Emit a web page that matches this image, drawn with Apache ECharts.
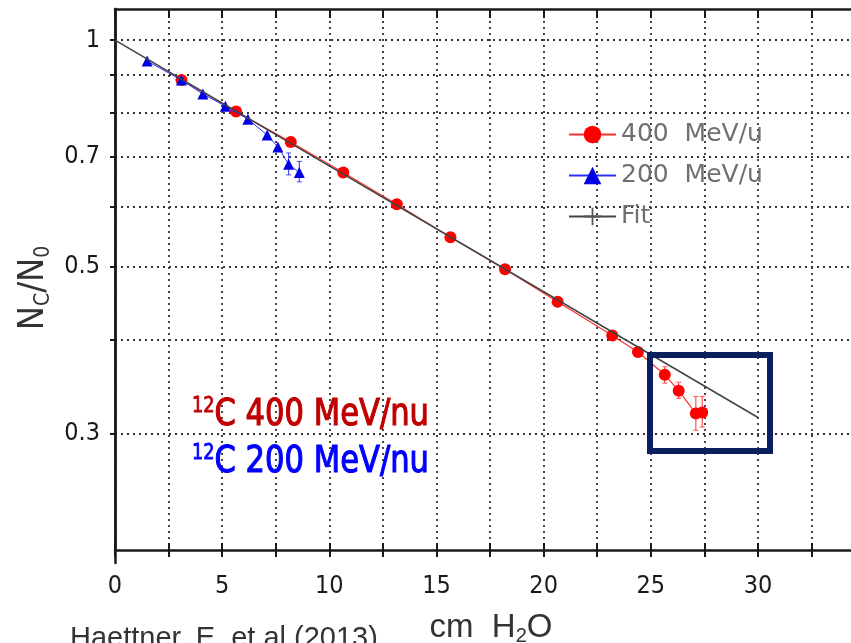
<!DOCTYPE html>
<html><head><meta charset="utf-8">
<script src="https://cdn.jsdelivr.net/npm/echarts@6/dist/echarts.min.js"></script>
<style>html,body{margin:0;padding:0;background:#fff}#c{width:851px;height:643px}</style>
</head><body><div id="c"></div>
<script>
// ---- data ----
const depth400 = [3.1, 5.65, 8.2, 10.65, 13.15, 15.65, 18.2, 20.65, 23.2, 24.4, 25.65, 26.3, 27.1, 27.4];
const ratio400 = [0.885, 0.804, 0.732, 0.667, 0.605, 0.547, 0.496, 0.449, 0.405, 0.385, 0.359, 0.342, 0.319, 0.320];
const depth200 = [1.5, 3.1, 4.1, 5.15, 6.2, 7.1, 7.6, 8.1, 8.6];
const ratio200 = [0.938, 0.885, 0.848, 0.817, 0.785, 0.748, 0.721, 0.684, 0.667];
const fitDepth = [0, 30];
const fitRatio = [1.0, 0.315];
// visible error bars
const err400Depth = [25.65, 26.3, 27.1, 27.4];
const err400Low = [0.350, 0.334, 0.303, 0.306];
const err400High = [0.368, 0.351, 0.336, 0.336];
const err200Depth = [8.1, 8.6];
const err200Low = [0.662, 0.648];
const err200High = [0.708, 0.690];
const xTickValues = [0, 2.5, 5, 7.5, 10, 12.5, 15, 17.5, 20, 22.5, 25, 27.5, 30, 32.5];
const xLabelValues = [0, 5, 10, 15, 20, 25, 30];
const yTickValues = [0.3, 0.4, 0.5, 0.6, 0.7, 0.8, 0.9, 1.0];
const yLabelValues = [0.3, 0.5, 0.7, 1.0];
const seriesNames = ['400 MeV/u', '200 MeV/u', 'Fit'];

const zip = (a, b) => a.map((v, i) => [v, b[i]]);
const zip3 = (a, b, c) => a.map((v, i) => [v, b[i], c[i]]);
const AX = '#1a1a1a';
const NARROW = '"DejaVu Sans Condensed", "Liberation Sans Narrow", sans-serif';
const SANS = '"Liberation Sans", Arial, sans-serif';
const X_MIN = 0, X_MAX = 34.34, Y_MIN = 0.21, Y_MAX = 1.1;
const gridRect = {left: 115, top: 9, right: 0, bottom: 93, containLabel: false, outerBoundsMode: 'none'};
const gridLong = {left: 115, top: 9, right: 0, bottom: 80, containLabel: false, outerBoundsMode: 'none'};
const dotted = {type: [2, 4], color: '#333', width: 1.8};

function errBar(color) {
  return function (params, api) {
    const x = api.value(0);
    const lo = api.coord([x, api.value(1)]);
    const hi = api.coord([x, api.value(2)]);
    return {
      type: 'group',
      children: [
        {type: 'line', shape: {x1: lo[0], y1: lo[1], x2: hi[0], y2: hi[1]}, style: {stroke: color, lineWidth: 1.2}},
        {type: 'line', shape: {x1: lo[0] - 2.5, y1: lo[1], x2: lo[0] + 2.5, y2: lo[1]}, style: {stroke: color, lineWidth: 1}},
        {type: 'line', shape: {x1: hi[0] - 2.5, y1: hi[1], x2: hi[0] + 2.5, y2: hi[1]}, style: {stroke: color, lineWidth: 1}}
      ]
    };
  };
}

const chart = echarts.init(document.getElementById('c'), null, {renderer: 'canvas'});
chart.setOption({
  animation: false,
  backgroundColor: '#fff',
  grid: [Object.assign({}, gridRect), Object.assign({}, gridRect), Object.assign({}, gridLong)],
  legend: {
    data: seriesNames,
    orient: 'vertical',
    left: 563, top: 117,
    itemWidth: 47, itemHeight: 22, itemGap: 16,
    textStyle: {fontFamily: '"DejaVu Sans", sans-serif', fontSize: 25, color: '#707070'},
    formatter: n => n.replace(' ', '  ')
  },
  xAxis: [
    {
      type: 'value', gridIndex: 0, position: 'bottom', min: X_MIN, max: X_MAX,
      axisLine: {lineStyle: {color: AX, width: 2.5}},
      axisTick: {customValues: xTickValues, length: 7, lineStyle: {color: AX, width: 2}},
      axisLabel: {customValues: xLabelValues, margin: 24, fontSize: 25, fontFamily: NARROW, color: AX},
      splitLine: {show: true, lineStyle: dotted},
      name: '{n|cm  H}{s|2}{n|O}', nameLocation: 'middle', nameGap: 60,
      nameTextStyle: {padding: [0, 0, 0, 16], color: '#333',
        rich: {n: {fontSize: 33, fontFamily: SANS, color: '#333', lineHeight: 36},
               s: {fontSize: 20, fontFamily: SANS, color: '#333', verticalAlign: 'bottom', lineHeight: 20}}}
    },
    {
      type: 'value', gridIndex: 0, position: 'top', min: X_MIN, max: X_MAX,
      axisLine: {lineStyle: {color: AX, width: 2.5}},
      axisTick: {customValues: xTickValues, inside: true, length: 9, lineStyle: {color: AX, width: 2}},
      axisLabel: {show: false}, splitLine: {show: false}
    },
    {
      type: 'value', gridIndex: 1, position: 'bottom', min: X_MIN, max: X_MAX,
      axisLine: {show: false},
      axisTick: {customValues: xTickValues, inside: true, length: 7, lineStyle: {color: AX, width: 2}},
      axisLabel: {show: false}, splitLine: {show: false}
    },
    {type: 'value', gridIndex: 2, min: X_MIN, max: X_MAX, show: false}
  ],
  yAxis: [
    {
      type: 'log', logBase: 10, gridIndex: 0, min: Y_MIN, max: Y_MAX,
      axisLine: {show: true, lineStyle: {color: AX, width: 2.5}},
      axisTick: {show: true, customValues: yTickValues, length: 5, lineStyle: {color: AX, width: 2}},
      axisLabel: {customValues: yLabelValues, margin: 15, fontSize: 25, fontFamily: NARROW, color: AX,
        formatter: v => String(+(+v).toFixed(2))},
      splitLine: {show: true, lineStyle: dotted}
    },
    {type: 'log', gridIndex: 1, min: Y_MIN, max: Y_MAX, show: false},
    {
      type: 'log', gridIndex: 2, min: Y_MIN, max: Y_MAX,
      axisLine: {show: true, lineStyle: {color: AX, width: 2.5}},
      axisTick: {show: false}, axisLabel: {show: false}, splitLine: {show: false}
    }
  ],
  series: [
    {
      name: 'err400', type: 'custom', xAxisIndex: 0, yAxisIndex: 0,
      data: zip3(err400Depth, err400Low, err400High),
      renderItem: errBar('#ff5050'), z: 1, silent: true
    },
    {
      name: 'err200', type: 'custom', xAxisIndex: 0, yAxisIndex: 0,
      data: zip3(err200Depth, err200Low, err200High),
      renderItem: errBar('#4a4aff'), z: 1, silent: true
    },
    {
      name: seriesNames[0], type: 'line', xAxisIndex: 0, yAxisIndex: 0,
      data: zip(depth400, ratio400),
      symbol: 'circle', symbolSize: 12,
      itemStyle: {color: '#ff0000'},
      lineStyle: {color: '#ff3030', width: 1.2}, z: 2
    },
    {
      name: seriesNames[1], type: 'line', xAxisIndex: 0, yAxisIndex: 0,
      data: zip(depth200, ratio200),
      symbol: 'triangle', symbolSize: 11,
      itemStyle: {color: '#0000e6'},
      lineStyle: {color: '#3030ff', width: 1}, z: 3
    },
    {
      name: seriesNames[2], type: 'line', xAxisIndex: 0, yAxisIndex: 0,
      data: zip(fitDepth, fitRatio),
      symbol: 'path://M0,4.6h10v0.8h-10z M4.5,1.5h1v7h-1z', showSymbol: false,
      itemStyle: {color: '#555'},
      lineStyle: {color: '#444', width: 1.6}, z: 4
    }
  ],
  graphic: [
    {
      type: 'text', x: 34, y: 288, rotation: Math.PI / 2, z: 10,
      style: {
        text: '{n|N}{s|C}{n|/N}{s|0}', align: 'center', verticalAlign: 'middle',
        rich: {n: {fontSize: 36, fontFamily: NARROW, fill: '#333', lineHeight: 40},
               s: {fontSize: 21, fontFamily: NARROW, fill: '#333', verticalAlign: 'bottom', lineHeight: 21}}
      }
    },
    {
      type: 'text', x: 192, y: 415, scaleX: 0.895, z: 10,
      style: {
        text: '{sup|12}{main|C 400 MeV/nu}', verticalAlign: 'middle',
        rich: {
          sup: {fontSize: 22, fontFamily: NARROW, fill: '#c00000', stroke: '#c00000', lineWidth: 0.8, verticalAlign: 'top', lineHeight: 22},
          main: {fontSize: 38, fontFamily: NARROW, fill: '#c00000', stroke: '#c00000', lineWidth: 1.1, lineHeight: 40}
        }
      }
    },
    {
      type: 'text', x: 192, y: 462, scaleX: 0.895, z: 10,
      style: {
        text: '{sup|12}{main|C 200 MeV/nu}', verticalAlign: 'middle',
        rich: {
          sup: {fontSize: 22, fontFamily: NARROW, fill: '#0000ff', stroke: '#0000ff', lineWidth: 0.8, verticalAlign: 'top', lineHeight: 22},
          main: {fontSize: 38, fontFamily: NARROW, fill: '#0000ff', stroke: '#0000ff', lineWidth: 1.1, lineHeight: 40}
        }
      }
    },
    {
      type: 'rect', z: 10,
      shape: {x: 650, y: 355, width: 120, height: 96},
      style: {fill: 'none', stroke: '#0b1f5e', lineWidth: 6}
    },
    {
      type: 'text', z: 10,
      style: {x: 70, y: 639, text: 'Haettner, E. et al (2013)', fontSize: 29,
        fontFamily: SANS, fill: '#333', verticalAlign: 'middle'}
    }
  ]
});
</script>
</body></html>
